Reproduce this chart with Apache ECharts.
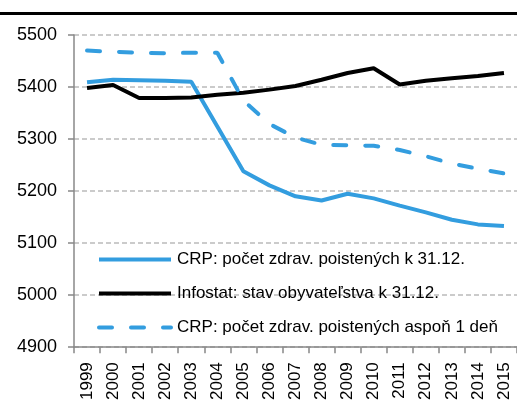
<!DOCTYPE html>
<html>
<head>
<meta charset="utf-8">
<script src="https://cdn.jsdelivr.net/npm/echarts@6/dist/echarts.min.js"></script>
<style>
  html, body { margin: 0; padding: 0; background: #fff; }
  #chart { width: 517px; height: 403px; }
</style>
</head>
<body>
<div id="chart"></div>
<script>
const years = ['1999','2000','2001','2002','2003','2004','2005','2006','2007','2008','2009','2010','2011','2012','2013','2014','2015']

const crpEndYear = [5409,5414,5413,5412,5410,5324,5238,5211,5190,5182,5195,5186,5172,5159,5145,5136,5133]
const infostat = [5398,5404,5379,5379,5380,5385,5389,5395,5402,5414,5427,5436,5405,5412,5417,5421,5427]
const crpOneDay = [5470,5468,5466,5465,5466,5466,5374,5329,5303,5289,5288,5287,5279,5267,5253,5243,5234]

const names = [
  'CRP: počet zdrav. poistených k 31.12.',
  'Infostat: stav obyvateľstva k 31.12.',
  'CRP: počet zdrav. poistených aspoň 1 deň'
]

const blue = '#339ddf'
const font = 'Liberation Sans, Arial, sans-serif'

const chart = echarts.init(document.getElementById('chart'), null, { renderer: 'canvas' })

chart.setOption({
  animation: false,
  backgroundColor: '#fff',
  graphic: [{
    type: 'rect',
    shape: { x: 0, y: 12, width: 517, height: 3 },
    style: { fill: '#000' }
  }],
  grid: { left: 74, right: 0, top: 35, bottom: 55, containLabel: false },
  legend: {
    orient: 'vertical',
    left: 97,
    top: 251,
    padding: 0,
    itemWidth: 72,
    itemHeight: 14,
    itemGap: 17,
    itemStyle: { opacity: 0 },
    lineStyle: { width: 4 },
    textStyle: { fontFamily: font, fontSize: 17, color: '#000', padding: [0, 0, 0, 1] },
    data: names
  },
  xAxis: {
    type: 'category',
    data: years,
    boundaryGap: true,
    axisLine: { lineStyle: { color: '#888', width: 1.5 } },
    axisTick: { show: true, length: 6, lineStyle: { color: '#888', width: 1.5 } },
    axisLabel: { rotate: 90, fontFamily: font, fontSize: 17, color: '#000', margin: 15 }
  },
  yAxis: {
    type: 'value',
    min: 4900,
    max: 5500,
    interval: 100,
    axisLine: { show: true, lineStyle: { color: '#888', width: 1.5 } },
    axisTick: { show: true, length: 6, lineStyle: { color: '#888', width: 1.5 } },
    axisLabel: { fontFamily: font, fontSize: 18, color: '#000', margin: 17, formatter: v => String(v) },
    splitLine: { lineStyle: { color: '#bbb', type: [5, 3], width: 1.5 } }
  },
  series: [
    {
      name: names[0],
      type: 'line',
      data: crpEndYear,
      symbol: 'none',
      lineStyle: { color: blue, width: 4 },
      itemStyle: { color: blue }
    },
    {
      name: names[1],
      type: 'line',
      data: infostat,
      symbol: 'none',
      lineStyle: { color: '#000', width: 4 },
      itemStyle: { color: '#000' }
    },
    {
      name: names[2],
      type: 'line',
      data: crpOneDay,
      symbol: 'none',
      lineStyle: { color: blue, width: 4, type: [13, 19], cap: 'round' },
      itemStyle: { color: blue }
    }
  ]
})
</script>
</body>
</html>
